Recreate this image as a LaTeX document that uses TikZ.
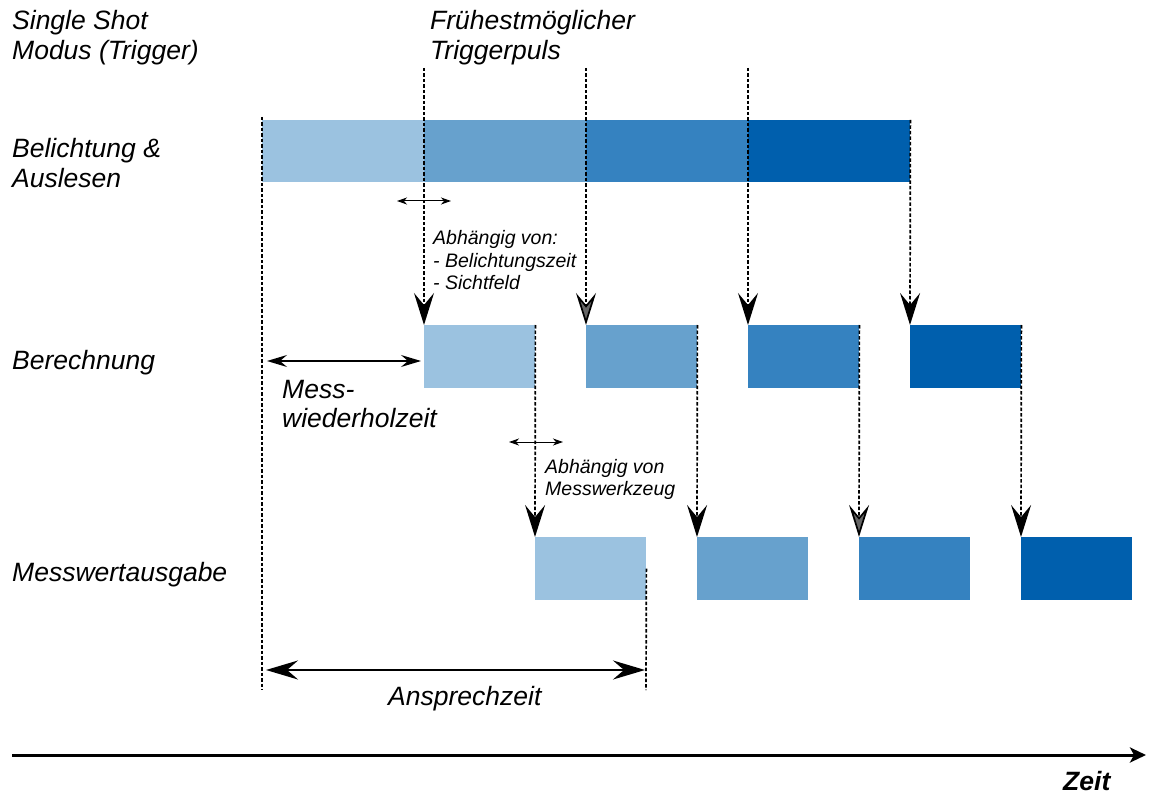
\documentclass[tikz,border=0pt]{standalone}
\usepackage{fontspec}
\setmainfont{Liberation Sans}
\usetikzlibrary{arrows.meta}

\definecolor{blueA}{HTML}{9BC2E0}
\definecolor{blueB}{HTML}{67A1CD}
\definecolor{blueC}{HTML}{3582C0}
\definecolor{blueD}{HTML}{005FAD}

\begin{document}
\begin{tikzpicture}[x=1pt, y=-1pt,
    lbl/.style={font=\fontsize{26.5}{30}\selectfont\itshape, inner sep=0pt, anchor=base west, align=left},
    note/.style={font=\fontsize{19.5}{22.5}\selectfont\itshape, inner sep=0pt, anchor=base west, align=left},
    phase/.style={inner sep=0pt, anchor=north west, minimum width=162pt, minimum height=62pt},
    slot/.style={inner sep=0pt, anchor=north west, minimum width=111pt, minimum height=63pt},
    guide/.style={dash pattern=on 3.5pt off 2pt, line width=1.7pt},
    trig/.style={guide, -{Stealth[length=32pt, width=20pt, inset=12pt]}},
    trigg/.style={guide, -{Stealth[length=32pt, width=20pt, inset=12pt, fill=black!60]}},
    dimarrow/.style={line width=1.5pt, {Stealth[length=20pt, width=12pt, inset=7pt]}-{Stealth[length=20pt, width=12pt, inset=7pt]}},
    bigdim/.style={line width=2.5pt, {Stealth[length=32pt, width=19pt, inset=11pt]}-{Stealth[length=32pt, width=19pt, inset=11pt]}},
    tinydim/.style={line width=1pt, {Stealth[length=10pt, width=7pt, inset=3pt]}-{Stealth[length=10pt, width=7pt, inset=3pt]}},
    axis/.style={line width=3pt, -{Stealth[length=16pt, width=15pt, inset=4pt]}}]
    \useasboundingbox (0,0) rectangle (1151,794);

    % row labels
    \node[lbl] (mode) at (12,60) {Single Shot\\Modus (Trigger)};
    \node[lbl] (trigl) at (430,60) {Frühestmöglicher\\Triggerpuls};
    \node[lbl] (expl) at (12,188) {Belichtung \&\\Auslesen};
    \node[lbl] (calcl) at (12,369) {Berechnung};
    \node[lbl] (outl) at (12,581) {Messwertausgabe};

    % exposure and readout
    \node[phase, fill=blueA] (e1) at (262,120) {};
    \node[phase, fill=blueB] (e2) at (424,120) {};
    \node[phase, fill=blueC] (e3) at (586,120) {};
    \node[phase, fill=blueD] (e4) at (748,120) {};

    % computation
    \node[slot, fill=blueA] (b1) at (424,325) {};
    \node[slot, fill=blueB] (b2) at (586,325) {};
    \node[slot, fill=blueC] (b3) at (748,325) {};
    \node[slot, fill=blueD] (b4) at (910,325) {};

    % output
    \node[slot, fill=blueA] (m1) at (535,537) {};
    \node[slot, fill=blueB] (m2) at (697,537) {};
    \node[slot, fill=blueC] (m3) at (859,537) {};
    \node[slot, fill=blueD] (m4) at (1021,537) {};

    \coordinate (s0) at (262,117);
    \coordinate (t0) at (262,690);
    \coordinate (a1) at (646,690);
    \coordinate (g1) at (424,68);
    \coordinate (g2) at (586,68);
    \coordinate (g3) at (748,68);

    \draw[guide] (s0) -- (t0);
    \draw[trig] (g1) -- (b1.north west);
    \draw[trigg] (g2) -- (b2.north west);
    \draw[trig] (g3) -- (b3.north west);
    \draw[trig] (e4.north east) -- (b4.north west);
    \draw[trig] (b1.north east) -- (m1.north west);
    \draw[trig] (b2.north east) -- (m2.north west);
    \draw[trigg] (b3.north east) -- (m3.north west);
    \draw[trig] (b4.north east) -- (m4.north west);
    \draw[guide] (m1.east) -- (a1);

    % dependencies
    \coordinate (w0) at (397,201);
    \coordinate (w1) at (451,201);
    \draw[tinydim] (w0) -- (w1);
    \node[note] (dep1) at (433,290) {Abhängig von:\\- Belichtungszeit\\- Sichtfeld};
    \coordinate (v0) at (509,442);
    \coordinate (v1) at (563,442);
    \draw[tinydim] (v0) -- (v1);
    \node[note] (dep2) at (545,495.5) {Abhängig von\\Messwerkzeug};

    % repetition time
    \coordinate (r0) at (267,361);
    \coordinate (r1) at (421,361);
    \draw[dimarrow] (r0) -- (r1);
    \node[lbl, font=\fontsize{26.5}{28.5}\selectfont\itshape] (rep) at (282,427) {Mess-\\wiederholzeit};

    % response time
    \coordinate (p0) at (266,670);
    \coordinate (p1) at (645,670);
    \draw[bigdim] (p0) -- (p1);
    \node[lbl] (resp) at (388,705) {Ansprechzeit};

    % time axis
    \coordinate (x0) at (12,755);
    \coordinate (x1) at (1146,755);
    \draw[axis] (x0) -- (x1);
    \node[lbl, font=\fontsize{26.5}{30}\selectfont\bfseries\itshape] (zeit) at (1063,790) {Zeit};
\end{tikzpicture}
\end{document}
